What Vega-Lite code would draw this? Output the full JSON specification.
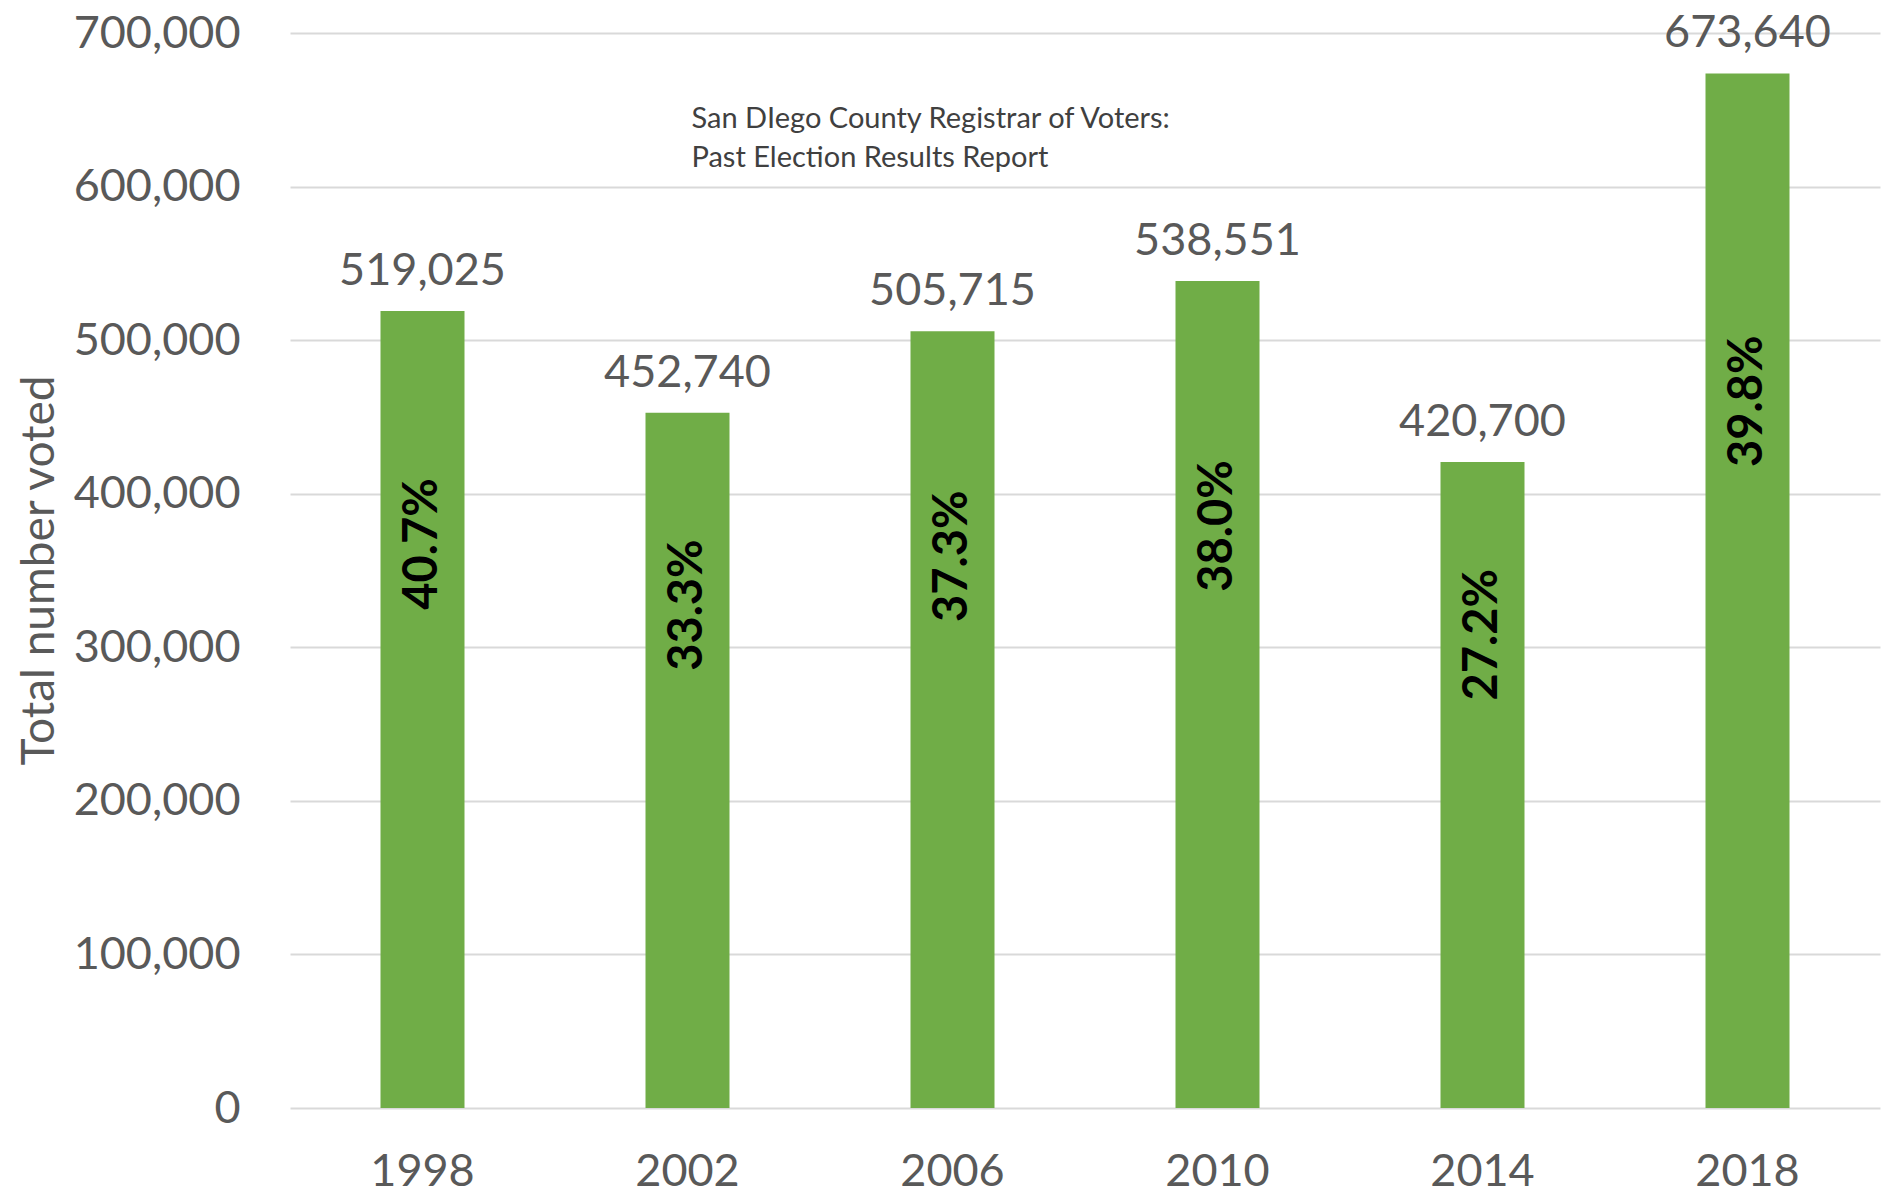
{
  "$schema": "https://vega.github.io/schema/vega-lite/v6.json",
  "width": 1590,
  "height": 1075,
  "autosize": {"type": "none"},
  "padding": {"left": 290, "top": 33, "right": 12, "bottom": 87},
  "background": "white",
  "data": {
    "values": [
      {"year": "1998", "votes": 519025, "turnout": 0.407},
      {"year": "2002", "votes": 452740, "turnout": 0.333},
      {"year": "2006", "votes": 505715, "turnout": 0.373},
      {"year": "2010", "votes": 538551, "turnout": 0.380},
      {"year": "2014", "votes": 420700, "turnout": 0.272},
      {"year": "2018", "votes": 673640, "turnout": 0.398}
    ]
  },
  "encoding": {
    "x": {
      "field": "year",
      "type": "nominal",
      "scale": {"paddingInner": 0.683, "paddingOuter": 0.3415},
      "title": null,
      "axis": {
        "labelAngle": 0,
        "labelFont": "Lato",
        "labelFontSize": 45,
        "labelColor": "#595959",
        "labelPadding": 41,
        "ticks": false,
        "tickSize": 0,
        "domain": false,
        "grid": false,
        "title": null
      }
    }
  },
  "layer": [
    {
      "mark": {"type": "bar", "color": "#70AD47"},
      "encoding": {
        "y": {
          "field": "votes",
          "type": "quantitative",
          "scale": {"domain": [0, 700000], "nice": false},
          "axis": {
            "values": [0, 100000, 200000, 300000, 400000, 500000, 600000, 700000],
            "format": ",d",
            "labelFont": "Lato",
            "labelFontSize": 45,
            "labelColor": "#595959",
            "labelPadding": 50,
            "labelFlush": false,
            "ticks": false,
            "tickSize": 0,
            "domain": false,
            "grid": true,
            "gridColor": "#d9d9d9",
            "gridWidth": 2,
            "title": "Total number voted",
            "titleFont": "Lato",
            "titleFontSize": 46,
            "titleFontWeight": "normal",
            "titleColor": "#595959",
            "titleBaseline": "alphabetic",
            "titleAngle": 270,
            "titleX": -237,
            "titleY": 537
          }
        }
      }
    },
    {
      "mark": {"type": "text", "baseline": "alphabetic", "dy": -26, "font": "Lato", "fontSize": 45, "color": "#595959"},
      "encoding": {
        "y": {"field": "votes", "type": "quantitative", "scale": {"domain": [0, 700000], "nice": false}, "axis": null},
        "text": {"field": "votes", "type": "quantitative", "format": ",d"}
      }
    },
    {
      "mark": {"type": "text", "angle": 270, "align": "center", "baseline": "middle", "dx": 85, "font": "Lato", "fontWeight": "bold", "fontSize": 47, "color": "#000000"},
      "encoding": {
        "y": {"field": "votes", "type": "quantitative", "scale": {"domain": [0, 1164700], "nice": false}, "axis": null},
        "text": {"field": "turnout", "type": "quantitative", "format": ".1%"}
      }
    },
    {
      "data": {"values": [{"note": "source"}]},
      "mark": {
        "type": "text",
        "align": "left",
        "baseline": "top",
        "dx": 4,
        "font": "Lato",
        "fontSize": 29,
        "lineHeight": 39,
        "color": "#404040",
        "text": ["San DIego County Registrar of Voters:", "Past Election Results Report"]
      },
      "encoding": {
        "x": {"datum": "2002", "type": "nominal"},
        "y": {"datum": 653000, "type": "quantitative", "scale": {"domain": [0, 700000], "nice": false}, "axis": null}
      }
    }
  ],
  "resolve": {"scale": {"y": "independent"}},
  "config": {"view": {"stroke": null}}
}
